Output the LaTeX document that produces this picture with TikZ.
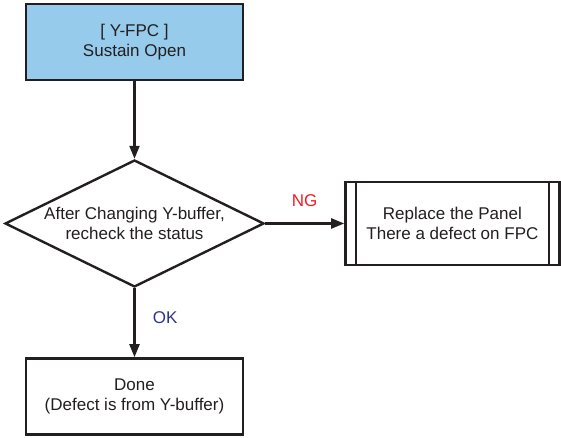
\documentclass[tikz,border=0pt]{standalone}
\usepackage{fontspec}
\setmainfont{Liberation Sans}
\usetikzlibrary{shapes.geometric,arrows.meta,positioning}
\definecolor{inkgray}{HTML}{231F20}
\definecolor{boxblue}{RGB}{150,203,236}
\definecolor{ngred}{RGB}{237,28,36}
\definecolor{okblue}{RGB}{46,49,146}

\begin{document}
\begin{tikzpicture}[
    x=1pt, y=1pt,
    % --- STYLES ---
    action/.style={
        rectangle, draw=inkgray, fill=white,
        line width=2.6pt,
        minimum width=217pt,
        minimum height=76pt,
        align=center, text=inkgray,
        font=\fontsize{17pt}{20.5pt}\selectfont
    },
    decision/.style={
        diamond, aspect=2.04, draw=inkgray, fill=white,
        line width=2.4pt, inner sep=0pt,
        minimum width=259pt, minimum height=127pt,
        align=center, text=inkgray,
        font=\fontsize{17pt}{20.5pt}\selectfont
    },
    predef/.style={action, line width=2.4pt, minimum width=214pt, minimum height=83pt},
    control/.style={-{Triangle[length=13pt,width=10pt]}, line width=2.2pt, draw=inkgray},
    lbl/.style={font=\fontsize{17pt}{20pt}\selectfont}
]
\useasboundingbox (0,0) rectangle (561,438);

% ===== NODES =====
\node[action, fill=boxblue] (fpc) at (134.5, 396) {[ Y-FPC ]\\ Sustain Open};

\node[decision, below=77.5pt of fpc] (dec) {After Changing Y-buffer,\\ recheck the status};

% Nhánh NG: thay panel
\node[predef, right=79pt of dec] (panel) {Replace the Panel\\ There a defect on FPC};
\draw[line width=2.4pt, inkgray] ([xshift=11.5pt]panel.north west) -- ([xshift=11.5pt]panel.south west);
\draw[line width=2.4pt, inkgray] ([xshift=-11.5pt]panel.north east) -- ([xshift=-11.5pt]panel.south east);

% Nhánh OK
\node[action, below=69pt of dec] (done) {Done\\ (Defect is from Y-buffer)};

% ===== CONNECTIONS =====
\draw[control] (fpc) -- (dec);
\draw[control] (dec) -- node[lbl, above=12pt, text=ngred] {NG} (panel);
\draw[control] (dec) -- node[lbl, right=14pt, pos=0.43, text=okblue] {OK} (done);

\end{tikzpicture}
\end{document}
